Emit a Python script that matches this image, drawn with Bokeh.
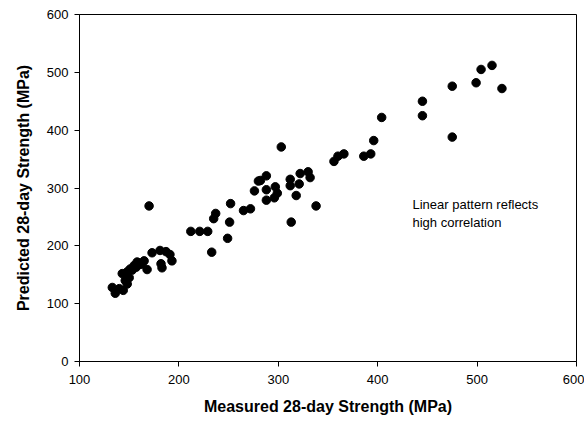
from bokeh.plotting import figure
from bokeh.models import Range1d, FixedTicker, Label
from bokeh.embed import file_html
from bokeh.resources import INLINE

measured = [515, 504, 499, 525, 475, 475, 445, 445, 404, 396, 393, 386,
            303, 366, 360, 356, 288, 282, 288, 288, 297, 299, 296, 312, 312,
            322, 321, 318, 330, 332, 338, 313, 280, 276, 252, 272, 265, 237,
            235, 251, 212, 221, 229, 249, 233, 170,
            173, 181, 187, 191, 193, 182, 183, 168, 165, 158, 155, 151, 148,
            143, 146, 144, 133, 136, 148, 140, 153, 157, 162, 150]
predicted = [512, 505, 482, 472, 476, 388, 450, 425, 422, 382, 359, 355,
             371, 359, 355, 346, 321, 313, 297, 279, 302, 291, 283, 315, 304,
             325, 307, 287, 328, 318, 269, 241, 312, 295, 273, 264, 261, 256,
             247, 241, 225, 225, 225, 213, 189, 269,
             188, 192, 190, 185, 174, 169, 162, 159, 174, 172, 166, 160, 155,
             152, 140, 123, 128, 118, 134, 126, 158, 163, 168, 145]

x_ticks = [100, 200, 300, 400, 500, 600]
y_ticks = [0, 100, 200, 300, 400, 500, 600]

p = figure(frame_width=497, frame_height=347, output_backend="svg",
           toolbar_location=None, x_range=Range1d(100, 600), y_range=Range1d(0, 600),
           min_border_left=79, min_border_top=14, min_border_right=8, min_border_bottom=62)

p.scatter(measured, predicted, size=8.5, color="black", line_color="black")

p.xgrid.visible = False
p.ygrid.visible = False
p.outline_line_color = "black"
p.outline_line_width = 1
p.background_fill_color = "white"
p.border_fill_color = "white"

for ax, ticks in ((p.xaxis[0], x_ticks), (p.yaxis[0], y_ticks)):
    ax.ticker = FixedTicker(ticks=ticks)
    ax.minor_tick_line_color = None
    ax.major_tick_out = 5
    ax.major_tick_in = 0
    ax.axis_line_color = "black"
    ax.major_tick_line_color = "black"
    ax.major_label_text_font = "Liberation Sans"
    ax.major_label_text_font_size = "13px"
    ax.major_label_text_color = "black"
    ax.axis_label_text_font = "Liberation Sans"
    ax.axis_label_text_font_size = "16px"
    ax.axis_label_text_font_style = "bold"
    ax.axis_label_text_color = "black"

p.xaxis.axis_label = "Measured 28-day Strength (MPa)"
p.yaxis.axis_label = "Predicted 28-day Strength (MPa)"
p.xaxis.major_label_standoff = 8
p.xaxis.axis_label_standoff = 11
p.yaxis.major_label_standoff = 6
p.yaxis.axis_label_standoff = 12

note = Label(x=435, y=284, text="Linear pattern reflects\nhigh correlation",
             text_font="Liberation Sans", text_font_size="13px",
             text_color="black", text_baseline="top", text_align="left")
p.add_layout(note)

open("out.html", "w").write(file_html(p, INLINE))
